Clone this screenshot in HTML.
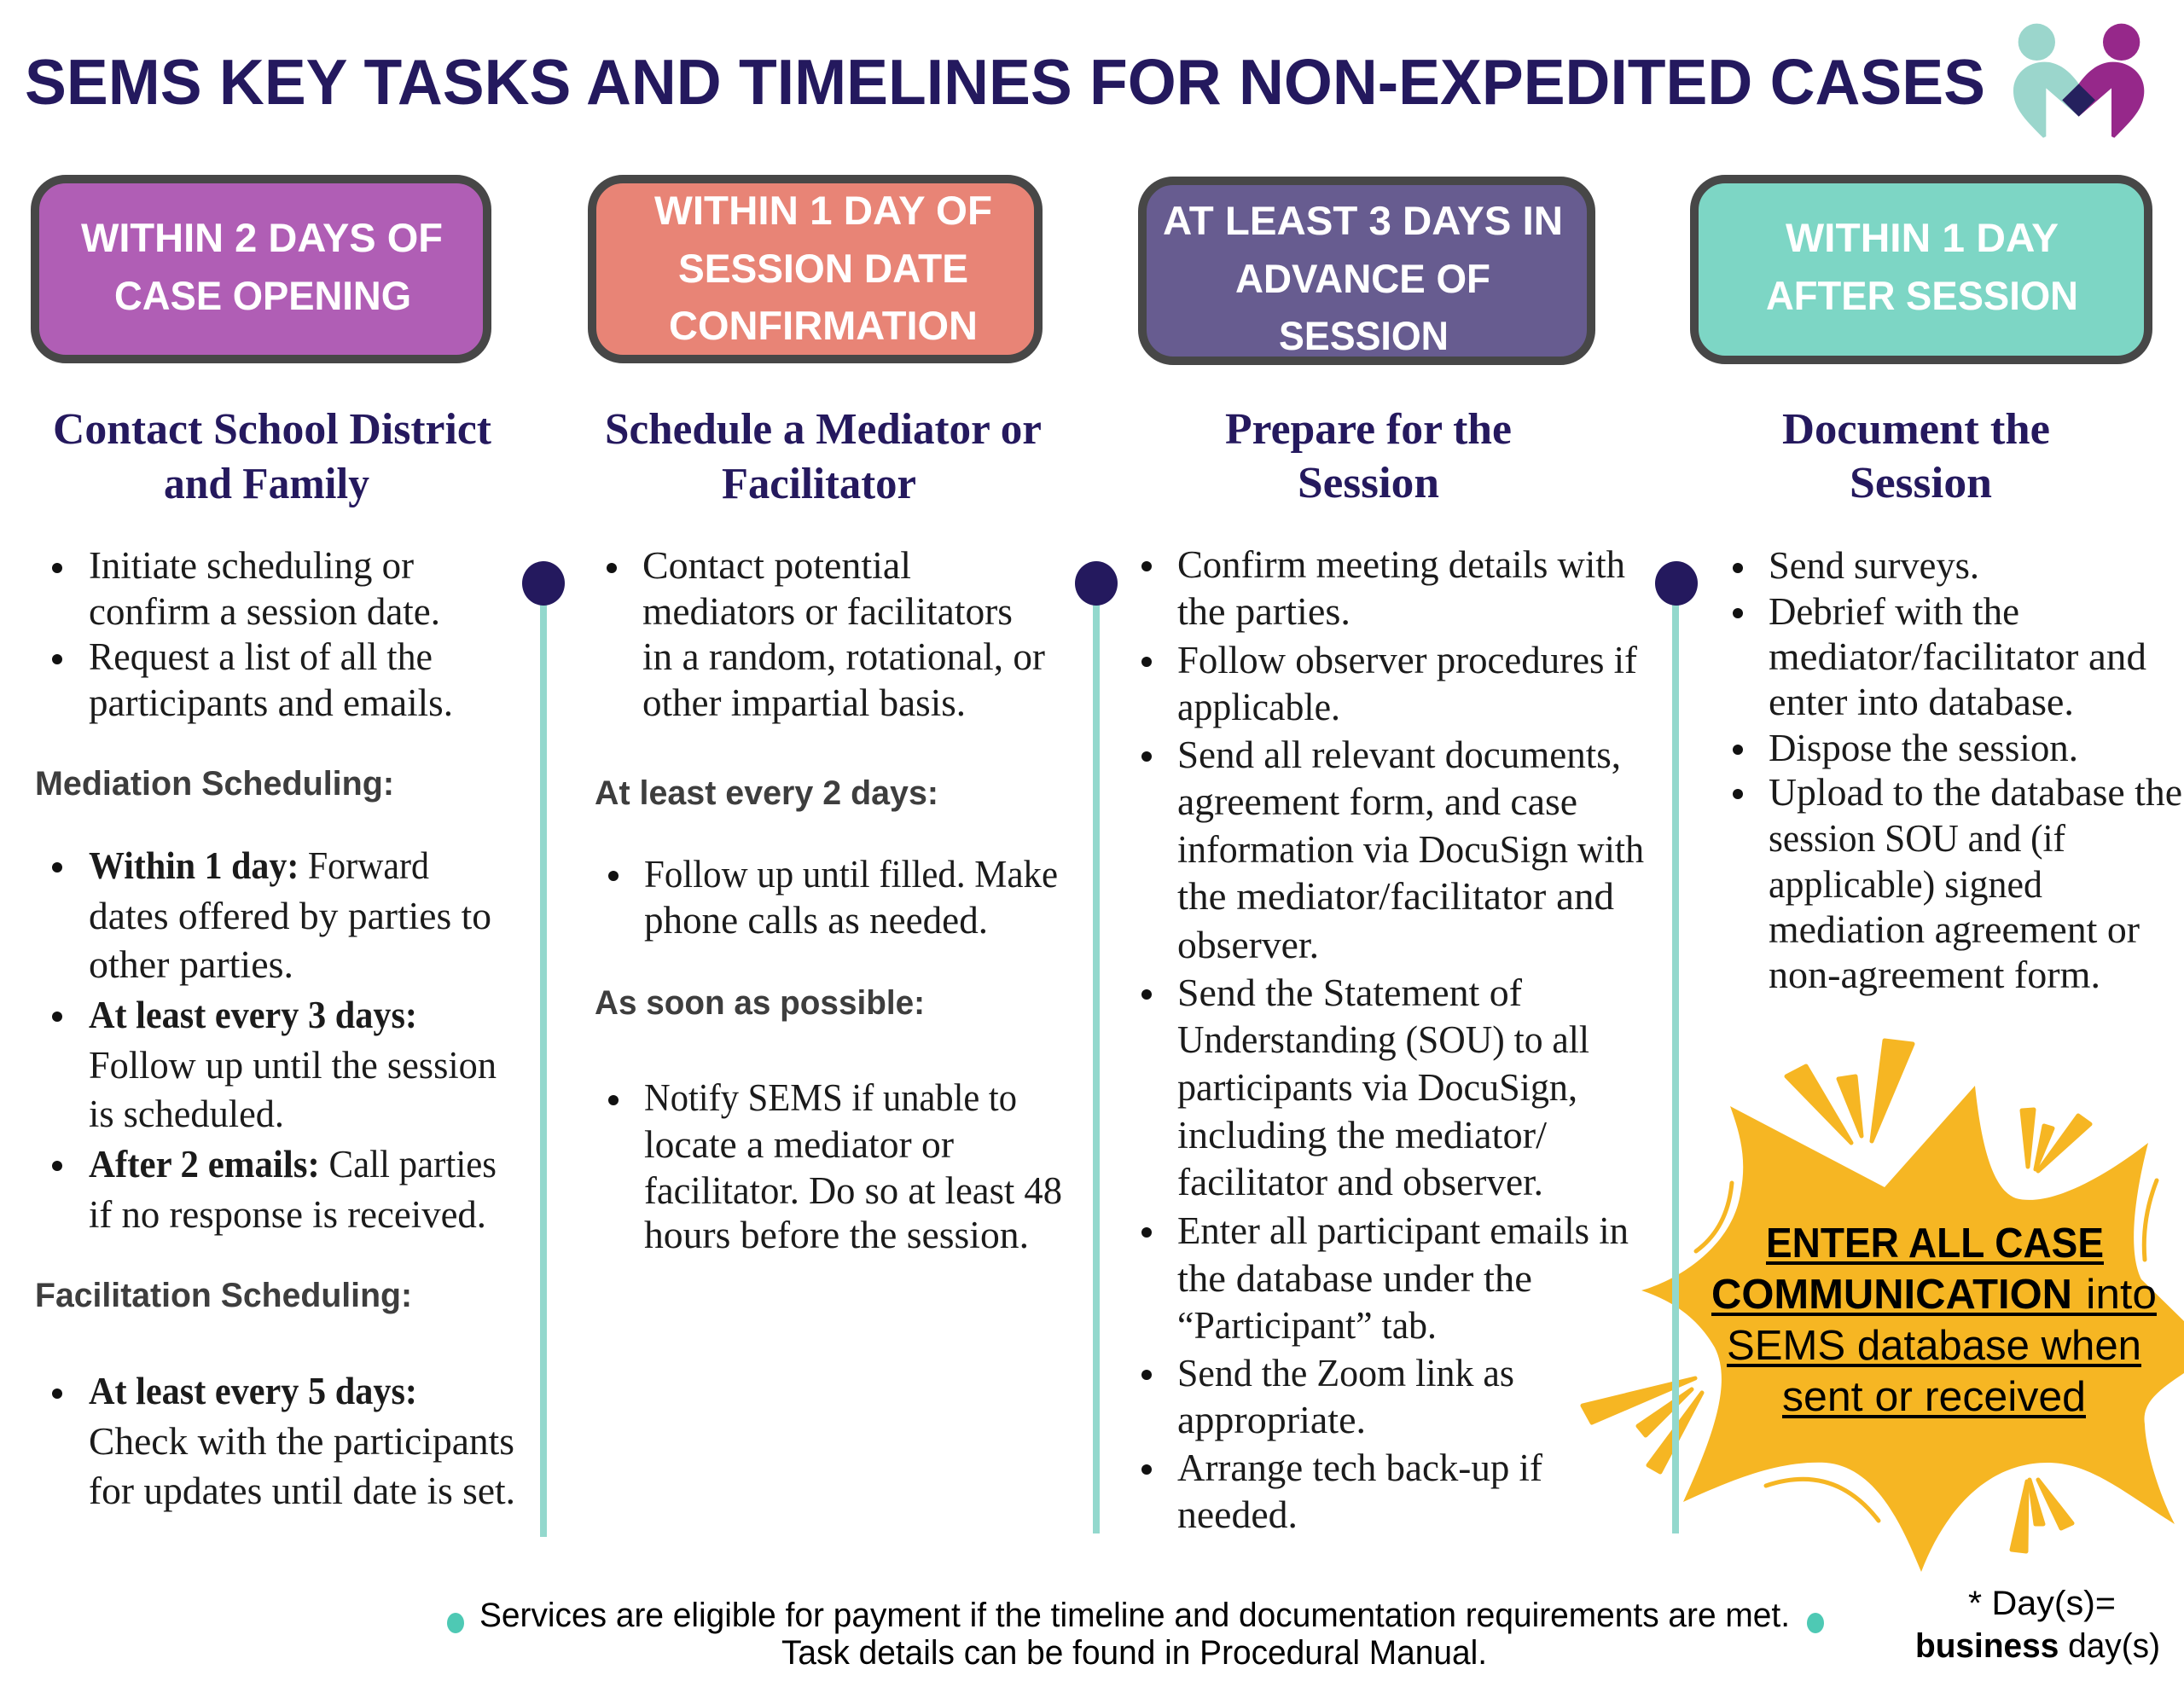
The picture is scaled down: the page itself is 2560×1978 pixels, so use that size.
<!DOCTYPE html>
<html><head><meta charset="utf-8"><style>
html,body{margin:0;padding:0;background:#fff;}
svg{display:block;}
.b{font-family:"Liberation Serif",serif;font-size:45px;fill:#1b1b1b;}
.h{font-family:"Liberation Serif",serif;font-size:52px;font-weight:bold;fill:#25195e;}
.s{font-family:"Liberation Sans",sans-serif;font-size:40px;font-weight:bold;fill:#3e3e3e;}
.bx{font-family:"Liberation Sans",sans-serif;font-size:47px;font-weight:bold;fill:#fff;}
.st{font-family:"Liberation Sans",sans-serif;font-size:49px;fill:#000;}
.f{font-family:"Liberation Sans",sans-serif;font-size:40px;fill:#000;}
</style></head><body>
<svg width="2560" height="1978" viewBox="0 0 2560 1978" xmlns="http://www.w3.org/2000/svg">
<rect width="2560" height="1978" fill="#fff"/>

<!-- Title -->
<text x="29" y="122" font-family="Liberation Sans, sans-serif" font-size="75" font-weight="bold" fill="#24195e" textLength="2298" lengthAdjust="spacingAndGlyphs">SEMS KEY TASKS AND TIMELINES FOR NON-EXPEDITED CASES</text>

<!-- Logo -->
<g transform="translate(2330,0) scale(0.3333)">
<circle cx="172" cy="148" r="65" fill="#9bd6cc"/>
<circle cx="470" cy="148" r="65" fill="#96288a"/>
<path d="M195,485 C130,420 90,380 90,320 C90,260 140,218 200,218 C255,218 295,260 320,295 L378,352 L320,410 L205,310 L205,480 Z" fill="#9bd6cc"/>
<path d="M445,485 C510,420 550,380 550,320 C550,260 500,218 440,218 C385,218 345,260 320,295 L262,352 L320,410 L435,310 L435,480 Z" fill="#96288a"/>
<path d="M320,295 L378,352 L320,410 L262,352 Z" fill="#25215e"/>
</g>

<!-- Header boxes -->
<rect x="41" y="210" width="530" height="211" rx="36" fill="#b05eb5" stroke="#474747" stroke-width="10"/>
<rect x="694" y="210" width="523" height="211" rx="36" fill="#e88476" stroke="#474747" stroke-width="10"/>
<rect x="1339" y="212" width="526" height="211" rx="36" fill="#675c90" stroke="#474747" stroke-width="10"/>
<rect x="1986" y="210" width="532" height="212" rx="36" fill="#7dd6c5" stroke="#474747" stroke-width="10"/>

<text class="bx" x="95" y="295" textLength="424" lengthAdjust="spacingAndGlyphs">WITHIN 2 DAYS OF</text>
<text class="bx" x="134" y="363" textLength="348" lengthAdjust="spacingAndGlyphs">CASE OPENING</text>

<text class="bx" x="767" y="263" textLength="396" lengthAdjust="spacingAndGlyphs">WITHIN 1 DAY OF</text>
<text class="bx" x="795" y="331" textLength="340" lengthAdjust="spacingAndGlyphs">SESSION DATE</text>
<text class="bx" x="784" y="398" textLength="362" lengthAdjust="spacingAndGlyphs">CONFIRMATION</text>

<text class="bx" x="1363" y="275" textLength="469" lengthAdjust="spacingAndGlyphs">AT LEAST 3 DAYS IN</text>
<text class="bx" x="1448" y="343" textLength="299" lengthAdjust="spacingAndGlyphs">ADVANCE OF</text>
<text class="bx" x="1499" y="410" textLength="199" lengthAdjust="spacingAndGlyphs">SESSION</text>

<text class="bx" x="2093" y="295" textLength="320" lengthAdjust="spacingAndGlyphs">WITHIN 1 DAY</text>
<text class="bx" x="2070" y="363" textLength="366" lengthAdjust="spacingAndGlyphs">AFTER SESSION</text>

<!-- Headings -->
<text class="h" x="62" y="520" textLength="514" lengthAdjust="spacingAndGlyphs">Contact School District</text>
<text class="h" x="192" y="584" textLength="241" lengthAdjust="spacingAndGlyphs">and Family</text>
<text class="h" x="709" y="520" textLength="512" lengthAdjust="spacingAndGlyphs">Schedule a Mediator or</text>
<text class="h" x="846" y="584" textLength="228" lengthAdjust="spacingAndGlyphs">Facilitator</text>
<text class="h" x="1436" y="520" textLength="336" lengthAdjust="spacingAndGlyphs">Prepare for the</text>
<text class="h" x="1521" y="583" textLength="166" lengthAdjust="spacingAndGlyphs">Session</text>
<text class="h" x="2089" y="520" textLength="314" lengthAdjust="spacingAndGlyphs">Document the</text>
<text class="h" x="2168" y="583" textLength="167" lengthAdjust="spacingAndGlyphs">Session</text>

<!-- Starburst -->
<g fill="#f6b623">
<path d="M2028,1297 L2209,1392 L2315,1273 C2322,1340 2335,1395 2363,1405 C2400,1415 2460,1385 2518,1340 C2500,1410 2495,1470 2510,1500 L2560,1549 L2560,1610 C2530,1630 2510,1645 2514,1670 C2515,1700 2530,1750 2549,1787 C2490,1750 2450,1715 2400,1715 C2330,1715 2280,1770 2252,1843 C2230,1790 2200,1720 2140,1715 C2080,1712 2020,1740 1973,1761 C2010,1680 2030,1620 2010,1580 C1990,1545 1960,1525 1924,1513 C1970,1500 2030,1460 2040,1400 C2048,1360 2040,1330 2028,1297 Z"/>
<g stroke="#f6b623" stroke-width="5" stroke-linejoin="round">
<path d="M2094,1262 L2117,1250 L2170,1340 Z"/>
<path d="M2155,1265 L2175,1262 L2182,1332 Z"/>
<path d="M2209,1220 L2242,1224 L2194,1338 Z"/>
<path d="M2370,1302 L2384,1301 L2377,1368 Z"/>
<path d="M2396,1320 L2406,1323 L2386,1371 Z"/>
<path d="M2436,1308 L2450,1318 L2389,1373 Z"/>
<path d="M1855,1648 L1866,1668 L1987,1616 Z"/>
<path d="M1920,1672 L1929,1683 L1983,1629 Z"/>
<path d="M1932,1718 L1946,1726 L1995,1633 Z"/>
<path d="M2358,1817 L2375,1819 L2376,1737 Z"/>
<path d="M2386,1787 L2395,1787 L2379,1735 Z"/>
<path d="M2416,1792 L2429,1786 L2389,1735 Z"/>
</g>
<g fill="none" stroke="#f6b623" stroke-width="5" stroke-linecap="round">
<path d="M2030,1387 Q2025,1440 1988,1467"/>
<path d="M2528,1384 Q2510,1430 2514,1477"/>
<path d="M2070,1742 Q2150,1715 2202,1783"/>
</g>
</g>

<!-- Timeline lines -->
<g fill="#93d8cd">
<rect x="633" y="684" width="8" height="1118"/>
<rect x="1281" y="684" width="8" height="1114"/>
<rect x="1960" y="684" width="8" height="1114"/>
</g>
<g fill="#24195e">
<ellipse cx="637" cy="684" rx="25" ry="26"/>
<ellipse cx="1285" cy="684" rx="25" ry="26"/>
<ellipse cx="1965" cy="684" rx="25" ry="26"/>
</g>

<!-- Starburst text -->
<text class="st" x="2070" y="1474" font-weight="bold" textLength="396" lengthAdjust="spacingAndGlyphs">ENTER ALL CASE</text>
<text class="st" x="2006" y="1534" font-weight="bold" textLength="423" lengthAdjust="spacingAndGlyphs">COMMUNICATION</text>
<text class="st" x="2445" y="1534" textLength="83" lengthAdjust="spacingAndGlyphs">into</text>
<text class="st" x="2024" y="1594" textLength="486" lengthAdjust="spacingAndGlyphs">SEMS database when</text>
<text class="st" x="2089" y="1654" textLength="356" lengthAdjust="spacingAndGlyphs">sent or received</text>
<g fill="#000">
<rect x="2070" y="1479" width="396" height="4"/>
<rect x="2006" y="1539" width="522" height="4"/>
<rect x="2024" y="1599" width="486" height="4"/>
<rect x="2089" y="1659" width="356" height="4"/>
</g>

<!-- Bullets -->
<g fill="#111">
<circle cx="67" cy="666" r="6"/>
<circle cx="67" cy="773" r="6"/>
<circle cx="67" cy="1017" r="6"/>
<circle cx="67" cy="1192" r="6"/>
<circle cx="67" cy="1367" r="6"/>
<circle cx="67" cy="1634" r="6"/>

<circle cx="717" cy="666" r="6"/>
<circle cx="719" cy="1027" r="6"/>
<circle cx="719" cy="1290" r="6"/>

<circle cx="1344" cy="664" r="6"/>
<circle cx="1344" cy="776" r="6"/>
<circle cx="1344" cy="887" r="6"/>
<circle cx="1344" cy="1166" r="6"/>
<circle cx="1344" cy="1445" r="6"/>
<circle cx="1344" cy="1612" r="6"/>
<circle cx="1344" cy="1723" r="6"/>

<circle cx="2037" cy="666" r="6"/>
<circle cx="2037" cy="719" r="6"/>
<circle cx="2037" cy="879" r="6"/>
<circle cx="2037" cy="931" r="6"/>
</g>

<!-- Column 1 -->
<g lengthAdjust="spacingAndGlyphs">
<text class="b" x="104" y="678" textLength="381" lengthAdjust="spacingAndGlyphs">Initiate scheduling or</text>
<text class="b" x="104" y="732" textLength="412" lengthAdjust="spacingAndGlyphs">confirm a session date.</text>
<text class="b" x="104" y="785" textLength="403" lengthAdjust="spacingAndGlyphs">Request a list of all the</text>
<text class="b" x="104" y="839" textLength="427" lengthAdjust="spacingAndGlyphs">participants and emails.</text>
<text class="s" x="41" y="932" textLength="421" lengthAdjust="spacingAndGlyphs">Mediation Scheduling:</text>
<text class="b" x="104" y="1030" textLength="399" lengthAdjust="spacingAndGlyphs"><tspan font-weight="bold">Within 1 day:</tspan> Forward</text>
<text class="b" x="104" y="1089" textLength="472" lengthAdjust="spacingAndGlyphs">dates offered by parties to</text>
<text class="b" x="104" y="1146" textLength="240" lengthAdjust="spacingAndGlyphs">other parties.</text>
<text class="b" x="104" y="1205" font-weight="bold" textLength="385" lengthAdjust="spacingAndGlyphs">At least every 3 days:</text>
<text class="b" x="104" y="1264" textLength="478" lengthAdjust="spacingAndGlyphs">Follow up until the session</text>
<text class="b" x="104" y="1321" textLength="229" lengthAdjust="spacingAndGlyphs">is scheduled.</text>
<text class="b" x="104" y="1380" textLength="478" lengthAdjust="spacingAndGlyphs"><tspan font-weight="bold">After 2 emails:</tspan> Call parties</text>
<text class="b" x="104" y="1439" textLength="466" lengthAdjust="spacingAndGlyphs">if no response is received.</text>
<text class="s" x="41" y="1532" textLength="442" lengthAdjust="spacingAndGlyphs">Facilitation Scheduling:</text>
<text class="b" x="104" y="1646" font-weight="bold" textLength="385" lengthAdjust="spacingAndGlyphs">At least every 5 days:</text>
<text class="b" x="104" y="1705" textLength="499" lengthAdjust="spacingAndGlyphs">Check with the participants</text>
<text class="b" x="104" y="1763" textLength="500" lengthAdjust="spacingAndGlyphs">for updates until date is set.</text>
</g>

<!-- Column 2 -->
<text class="b" x="753" y="678" textLength="315" lengthAdjust="spacingAndGlyphs">Contact potential</text>
<text class="b" x="753" y="732" textLength="434" lengthAdjust="spacingAndGlyphs">mediators or facilitators</text>
<text class="b" x="753" y="785" textLength="472" lengthAdjust="spacingAndGlyphs">in a random, rotational, or</text>
<text class="b" x="753" y="839" textLength="379" lengthAdjust="spacingAndGlyphs">other impartial basis.</text>
<text class="s" x="697" y="943" textLength="403" lengthAdjust="spacingAndGlyphs">At least every 2 days:</text>
<text class="b" x="755" y="1040" textLength="485" lengthAdjust="spacingAndGlyphs">Follow up until filled. Make</text>
<text class="b" x="755" y="1094" textLength="403" lengthAdjust="spacingAndGlyphs">phone calls as needed.</text>
<text class="s" x="697" y="1189" textLength="387" lengthAdjust="spacingAndGlyphs">As soon as possible:</text>
<text class="b" x="755" y="1302" textLength="437" lengthAdjust="spacingAndGlyphs">Notify SEMS if unable to</text>
<text class="b" x="755" y="1357" textLength="363" lengthAdjust="spacingAndGlyphs">locate a mediator or</text>
<text class="b" x="755" y="1411" textLength="490" lengthAdjust="spacingAndGlyphs">facilitator. Do so at least 48</text>
<text class="b" x="755" y="1463" textLength="451" lengthAdjust="spacingAndGlyphs">hours before the session.</text>

<!-- Column 3 -->
<text class="b" x="1380" y="677" textLength="525" lengthAdjust="spacingAndGlyphs">Confirm meeting details with</text>
<text class="b" x="1380" y="732" textLength="203" lengthAdjust="spacingAndGlyphs">the parties.</text>
<text class="b" x="1380" y="789" textLength="539" lengthAdjust="spacingAndGlyphs">Follow observer procedures if</text>
<text class="b" x="1380" y="844" textLength="191" lengthAdjust="spacingAndGlyphs">applicable.</text>
<text class="b" x="1380" y="900" textLength="520" lengthAdjust="spacingAndGlyphs">Send all relevant documents,</text>
<text class="b" x="1380" y="955" textLength="469" lengthAdjust="spacingAndGlyphs">agreement form, and case</text>
<text class="b" x="1380" y="1011" textLength="547" lengthAdjust="spacingAndGlyphs">information via DocuSign with</text>
<text class="b" x="1380" y="1066" textLength="512" lengthAdjust="spacingAndGlyphs">the mediator/facilitator and</text>
<text class="b" x="1380" y="1123" textLength="166" lengthAdjust="spacingAndGlyphs">observer.</text>
<text class="b" x="1380" y="1179" textLength="404" lengthAdjust="spacingAndGlyphs">Send the Statement of</text>
<text class="b" x="1380" y="1234" textLength="483" lengthAdjust="spacingAndGlyphs">Understanding (SOU) to all</text>
<text class="b" x="1380" y="1290" textLength="469" lengthAdjust="spacingAndGlyphs">participants via DocuSign,</text>
<text class="b" x="1380" y="1346" textLength="433" lengthAdjust="spacingAndGlyphs">including the mediator/</text>
<text class="b" x="1380" y="1401" textLength="429" lengthAdjust="spacingAndGlyphs">facilitator and observer.</text>
<text class="b" x="1380" y="1458" textLength="529" lengthAdjust="spacingAndGlyphs">Enter all participant emails in</text>
<text class="b" x="1380" y="1514" textLength="416" lengthAdjust="spacingAndGlyphs">the database under the</text>
<text class="b" x="1380" y="1569" textLength="304" lengthAdjust="spacingAndGlyphs">“Participant” tab.</text>
<text class="b" x="1380" y="1625" textLength="395" lengthAdjust="spacingAndGlyphs">Send the Zoom link as</text>
<text class="b" x="1380" y="1680" textLength="221" lengthAdjust="spacingAndGlyphs">appropriate.</text>
<text class="b" x="1380" y="1736" textLength="428" lengthAdjust="spacingAndGlyphs">Arrange tech back-up if</text>
<text class="b" x="1380" y="1791" textLength="141" lengthAdjust="spacingAndGlyphs">needed.</text>

<!-- Column 4 -->
<text class="b" x="2073" y="678" textLength="247" lengthAdjust="spacingAndGlyphs">Send surveys.</text>
<text class="b" x="2073" y="732" textLength="294" lengthAdjust="spacingAndGlyphs">Debrief with the</text>
<text class="b" x="2073" y="785" textLength="443" lengthAdjust="spacingAndGlyphs">mediator/facilitator and</text>
<text class="b" x="2073" y="838" textLength="358" lengthAdjust="spacingAndGlyphs">enter into database.</text>
<text class="b" x="2073" y="892" textLength="363" lengthAdjust="spacingAndGlyphs">Dispose the session.</text>
<text class="b" x="2073" y="944" textLength="485" lengthAdjust="spacingAndGlyphs">Upload to the database the</text>
<text class="b" x="2073" y="998" textLength="348" lengthAdjust="spacingAndGlyphs">session SOU and (if</text>
<text class="b" x="2073" y="1052" textLength="321" lengthAdjust="spacingAndGlyphs">applicable) signed</text>
<text class="b" x="2073" y="1105" textLength="435" lengthAdjust="spacingAndGlyphs">mediation agreement or</text>
<text class="b" x="2073" y="1158" textLength="389" lengthAdjust="spacingAndGlyphs">non-agreement form.</text>

<!-- Footer -->
<ellipse cx="534" cy="1903" rx="10" ry="12" fill="#4ec9b4"/>
<ellipse cx="2128" cy="1903" rx="10" ry="12" fill="#4ec9b4"/>
<text class="f" x="562" y="1907" textLength="1536" lengthAdjust="spacingAndGlyphs">Services are eligible for payment if the timeline and documentation requirements are met.</text>
<text class="f" x="916" y="1951" textLength="827" lengthAdjust="spacingAndGlyphs">Task details can be found in Procedural Manual.</text>
<text class="f" x="2307" y="1893" textLength="173" lengthAdjust="spacingAndGlyphs">* Day(s)=</text>
<text class="f" x="2245" y="1943" textLength="287" lengthAdjust="spacingAndGlyphs"><tspan font-weight="bold">business</tspan> day(s)</text>
</svg>
</body></html>
